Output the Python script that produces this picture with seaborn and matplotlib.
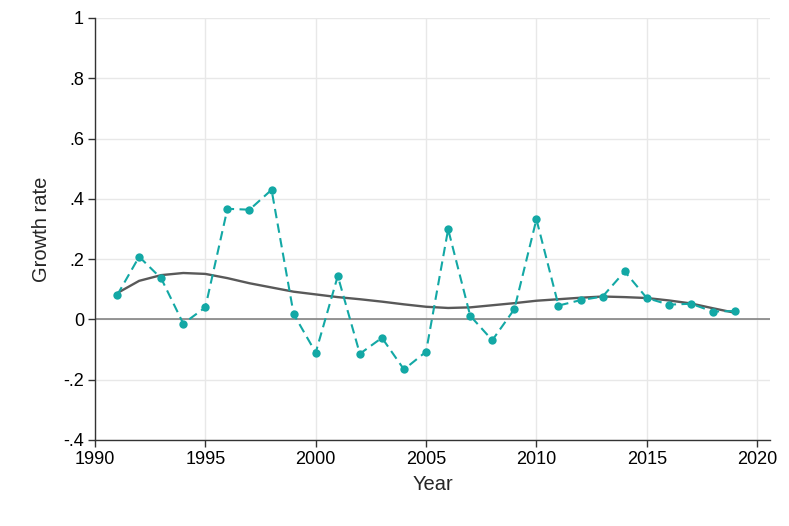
"""Growth rate by year with a smoothed trend line."""

import matplotlib
matplotlib.use("Agg")
import matplotlib.pyplot as plt
import matplotlib.ticker as mticker
import pandas as pd
import seaborn as sns

years = list(range(1991, 2020))
growth = [0.080, 0.208, 0.136, -0.014, 0.040, 0.367, 0.364, 0.430, 0.018, -0.110,
          0.144, -0.114, -0.061, -0.166, -0.107, 0.299, 0.012, -0.069, 0.034, 0.332,
          0.046, 0.064, 0.076, 0.159, 0.071, 0.049, 0.052, 0.026, 0.028]
trend = [0.087, 0.128, 0.147, 0.154, 0.151, 0.137, 0.120, 0.106, 0.092, 0.083,
         0.074, 0.067, 0.059, 0.050, 0.042, 0.038, 0.040, 0.047, 0.054, 0.062,
         0.067, 0.072, 0.076, 0.074, 0.071, 0.063, 0.053, 0.037, 0.022]

x_ticks = [1990, 1995, 2000, 2005, 2010, 2015, 2020]
y_ticks = [-0.4, -0.2, 0, 0.2, 0.4, 0.6, 0.8, 1.0]

df = pd.DataFrame({"Year": years, "growth": growth, "trend": trend})

sns.set_theme(style="white")
plt.rcParams["font.family"] = ["Liberation Sans", "DejaVu Sans"]

fig = plt.figure(figsize=(7.89, 5.26), dpi=100)
ax = fig.add_axes([0.1204, 0.1635, 0.856, 0.8023])

ax.axhline(0, color="#7a7a7a", linewidth=1.1, zorder=1)
sns.lineplot(data=df, x="Year", y="growth", ax=ax, color="#13a8a5",
             linestyle=(0, (4.5, 2.6)), linewidth=1.5, marker="o", markersize=6,
             markeredgewidth=0, zorder=3)
sns.lineplot(data=df, x="Year", y="trend", ax=ax, color="#595959",
             linewidth=1.7, zorder=2)

ax.set_xlim(1990, 2020.6)
ax.set_ylim(-0.4, 1.0)
ax.set_xticks(x_ticks)
ax.set_yticks(y_ticks)


def stata_fmt(v, _):
    if abs(v) < 1e-9:
        return "0"
    s = f"{v:.1f}".rstrip("0").rstrip(".")
    return s.replace("0.", ".")


ax.yaxis.set_major_formatter(mticker.FuncFormatter(stata_fmt))
ax.grid(True, color="#e8e8e8", linewidth=1.0)
ax.set_axisbelow(True)
for side in ("top", "right"):
    ax.spines[side].set_visible(False)
for side in ("left", "bottom"):
    ax.spines[side].set_color("#333333")
    ax.spines[side].set_linewidth(1.0)
ax.tick_params(axis="both", direction="out", length=5, width=1.0,
               color="#333333", labelsize=13, labelcolor="black", pad=3,
               left=True, bottom=True)
ax.set_xlabel("Year", fontsize=14.5, labelpad=5)
ax.set_ylabel("Growth rate", fontsize=14.5, labelpad=9)

fig.savefig("out.png", dpi=100)
plt.close(fig)
